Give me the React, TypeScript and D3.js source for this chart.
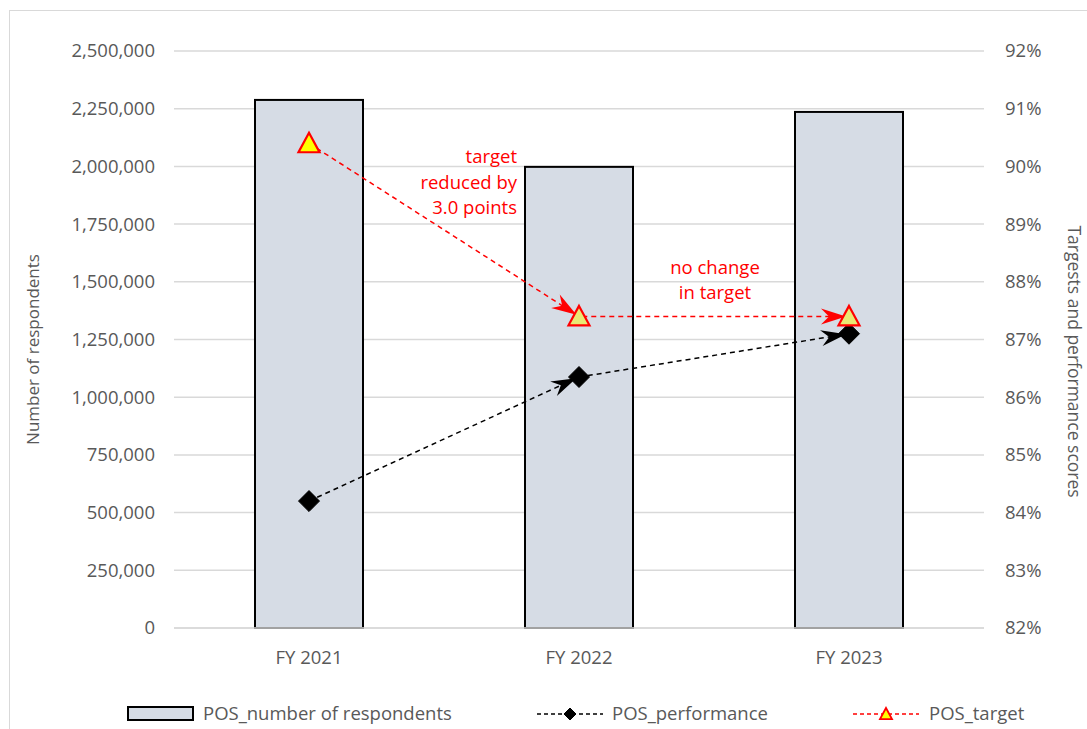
import React from "react";
import * as d3 from "d3";

const categories = ["FY 2021", "FY 2022", "FY 2023"];
const respondents = [2288000, 1998000, 2236000];
const performance = [84.2, 86.35, 87.1];
const target = [90.4, 87.4, 87.4];
const leftTicks = [0, 250000, 500000, 750000, 1000000, 1250000, 1500000, 1750000, 2000000, 2250000, 2500000];
const rightTicks = [82, 83, 84, 85, 86, 87, 88, 89, 90, 91, 92];
const targetFills = ["#FFFF00", "#E9E974", "#E9E974"];

const W = 1087, H = 729;
const M = { left: 174, right: 984, top: 51, bottom: 628 };
const FONT = "'Open Sans', sans-serif";
const GREY = "#595959";

export default function App() {
  const x = d3.scaleBand<string>().domain(categories).range([M.left, M.right]).paddingInner(0).paddingOuter(0);
  const yL = d3.scaleLinear().domain([0, 2500000]).range([M.bottom, M.top]);
  const yR = d3.scaleLinear().domain([82, 92]).range([M.bottom, M.top]);
  const fmt = d3.format(",");
  const bw = x.bandwidth() * 0.4;
  const cx = (c: string) => (x(c) as number) + x.bandwidth() / 2;

  const perfPts = categories.map((c, i) => [cx(c), yR(performance[i])] as [number, number]);
  const tgtPts = categories.map((c, i) => [cx(c), yR(target[i])] as [number, number]);
  const line = d3.line();

  const arrowHead = (p0: [number, number], p1: [number, number], color: string, key: string) => {
    const dx = p1[0] - p0[0], dy = p1[1] - p0[1];
    const L = Math.hypot(dx, dy);
    const ux = dx / L, uy = dy / L;
    const nx = -uy, ny = ux;
    const tip: [number, number] = [p1[0] - ux * 3, p1[1] - uy * 3];
    const len = 25, hw = 8, notch = 17;
    const back = [tip[0] - ux * len, tip[1] - uy * len];
    const pts = [
      tip,
      [back[0] + nx * hw, back[1] + ny * hw],
      [tip[0] - ux * notch, tip[1] - uy * notch],
      [back[0] - nx * hw, back[1] - ny * hw],
    ];
    return <polygon key={key} points={pts.map((p) => p.join(",")).join(" ")} fill={color} />;
  };

  const diamond = (px: number, py: number, r: number, key: string) => (
    <path key={key} d={`M${px},${py - r}L${px + r},${py}L${px},${py + r}L${px - r},${py}Z`} fill="#000" stroke="#000" strokeWidth={1} />
  );
  const triangle = (px: number, py: number, r: number, fill: string, key: string, sw = 2.2) => (
    <path key={key} d={`M${px},${py - r}L${px + r},${py + r * 0.85}L${px - r},${py + r * 0.85}Z`} fill={fill} stroke="#FF0000" strokeWidth={sw} strokeLinejoin="miter" />
  );

  return (
    <svg width={W} height={H} style={{ position: "absolute", left: 0, top: 0, background: "#fff" }} fontFamily={FONT}>
      <rect x={9.5} y={10.5} width={1100} height={740} fill="#fff" stroke="#d9d9d9" strokeWidth={1} />
      {leftTicks.map((t) => (
        <line key={"g" + t} x1={M.left} x2={M.right} y1={yL(t)} y2={yL(t)} stroke="#d9d9d9" strokeWidth={1.5} />
      ))}
      {categories.map((c, i) => (
        <rect key={"b" + c} x={cx(c) - bw / 2} y={yL(respondents[i])} width={bw} height={yL(0) - yL(respondents[i])} fill="#D6DCE5" stroke="#000" strokeWidth={2} />
      ))}
      <line x1={M.left} x2={M.right} y1={yL(0)} y2={yL(0)} stroke="#d9d9d9" strokeWidth={1.5} />
      {leftTicks.map((t) => (
        <text key={"l" + t} x={155} y={yL(t)} dy="0.35em" textAnchor="end" fontSize={18.5} fill={GREY}>{fmt(t)}</text>
      ))}
      {rightTicks.map((t) => (
        <text key={"r" + t} x={1005} y={yR(t)} dy="0.35em" textAnchor="start" fontSize={18.5} fill={GREY}>{t + "%"}</text>
      ))}
      {categories.map((c) => (
        <text key={"c" + c} x={cx(c)} y={658} dy="0.35em" textAnchor="middle" fontSize={18.5} fill={GREY}>{c}</text>
      ))}
      <text transform={`translate(33,${(M.top + M.bottom) / 2 + 10}) rotate(-90)`} textAnchor="middle" dy="0.35em" fontSize={17} fill={GREY}>Number of respondents</text>
      <text transform={`translate(1074,${(M.top + M.bottom) / 2 + 22}) rotate(90)`} textAnchor="middle" dy="0.35em" fontSize={17.5} fill={GREY}>Targests and performance scores</text>

      <path d={line(perfPts) as string} fill="none" stroke="#000" strokeWidth={1.5} strokeDasharray="5,4" />
      <path d={line(tgtPts) as string} fill="none" stroke="#FF0000" strokeWidth={1.5} strokeDasharray="5,4" />
      {[0, 1].map((i) => arrowHead(perfPts[i], perfPts[i + 1], "#000", "pa" + i))}
      {[0, 1].map((i) => arrowHead(tgtPts[i], tgtPts[i + 1], "#FF0000", "ta" + i))}
      {perfPts.map((p, i) => diamond(p[0], p[1], 10.5, "d" + i))}
      {tgtPts.map((p, i) => triangle(p[0], p[1], 10.5, targetFills[i], "t" + i))}

      <g fill="#FF0000" fontSize={18.5} textAnchor="end">
        <text x={517} y={157} dy="0.35em">target</text>
        <text x={517} y={183} dy="0.35em">reduced by</text>
        <text x={517} y={208} dy="0.35em">3.0 points</text>
      </g>
      <g fill="#FF0000" fontSize={18.5} textAnchor="middle">
        <text x={715} y={268} dy="0.35em">no change</text>
        <text x={715} y={293} dy="0.35em">in target</text>
      </g>

      <rect x={128} y={707} width={65} height={13} fill="#D6DCE5" stroke="#000" strokeWidth={2} />
      <text x={203} y={714} dy="0.35em" fontSize={18.5} fill={GREY}>POS_number of respondents</text>
      <line x1={537} x2={603} y1={714} y2={714} stroke="#000" strokeWidth={1.5} strokeDasharray="4,3" />
      {diamond(570, 714, 6, "ld")}
      <text x={612} y={714} dy="0.35em" fontSize={18.5} fill={GREY}>POS_performance</text>
      <line x1={853} x2={919} y1={714} y2={714} stroke="#FF0000" strokeWidth={1.5} strokeDasharray="4,3" />
      {triangle(886, 714, 6, "#FFFF00", "lt", 1.8)}
      <text x={929} y={714} dy="0.35em" fontSize={18.5} fill={GREY}>POS_target</text>
    </svg>
  );
}
